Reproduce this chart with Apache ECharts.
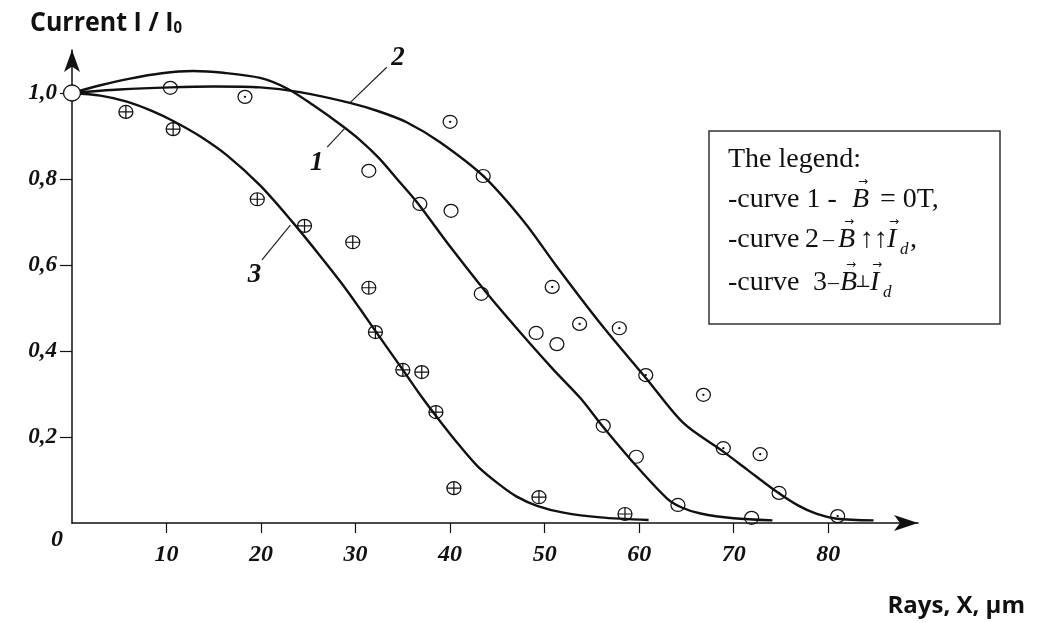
<!DOCTYPE html>
<html>
<head>
<meta charset="utf-8">
<title>Current vs rays</title>
<script src="https://cdn.jsdelivr.net/npm/echarts@6.0.0/dist/echarts.min.js"></script>
<style>
  html, body { margin: 0; padding: 0; background: #fff; }
  #chart { width: 1042px; height: 623px; }
</style>
</head>
<body>
<div id="chart"></div>
<script>
  // tick labels
  var xTicks = [10, 20, 30, 40, 50, 60, 70, 80];
  var yTicks = [0.2, 0.4, 0.6, 0.8, 1.0];

  // fitted curves [x, I/I0]
  var curve1 = [[0, 1.0], [3, 1.018], [6, 1.033], [9.5, 1.046], [12.8, 1.051], [16, 1.047], [19.9, 1.035],
    [22.8, 1.01], [25.5, 0.972], [28.5, 0.925], [30.5, 0.89], [32.5, 0.848], [34.5, 0.797], [36.6, 0.743],
    [40, 0.643], [44.2, 0.526], [48.1, 0.426], [51, 0.355], [53.8, 0.29], [56.2, 0.223], [59.4, 0.14],
    [62.9, 0.058], [64.5, 0.036], [66.5, 0.022], [70, 0.011], [74.1, 0.006]];
  var curve2 = [[0, 1.0], [5, 1.008], [10.4, 1.013], [15, 1.015], [19.9, 1.013], [24.1, 1.002], [29.4, 0.977],
    [32.5, 0.957], [35.4, 0.932], [38.9, 0.886], [43.5, 0.807], [47.8, 0.701], [51.3, 0.596], [55.9, 0.464],
    [60.8, 0.335], [64.7, 0.232], [68.9, 0.166], [71.5, 0.123], [74.6, 0.072], [76.8, 0.041], [78.8, 0.021],
    [80.9, 0.01], [84.8, 0.006]];
  var curve3 = [[0, 1.0], [3, 0.994], [5.8, 0.98], [8.5, 0.958], [10.7, 0.935], [13.5, 0.9], [16.4, 0.855],
    [19.9, 0.785], [23.4, 0.698], [26, 0.628], [28.5, 0.558], [30.5, 0.497], [32.5, 0.434], [35, 0.356],
    [37.1, 0.29], [39, 0.235], [41, 0.18], [43, 0.13], [45.3, 0.088], [47, 0.062], [49.2, 0.04], [52, 0.024],
    [55.9, 0.013], [61, 0.007]];

  // measured points
  var origin = [[0, 1.0]];
  var pts1 = [[10.4, 1.012], [31.4, 0.819], [36.8, 0.742], [40.1, 0.726], [43.3, 0.533], [49.1, 0.442],
    [51.3, 0.416], [56.2, 0.226], [59.7, 0.154], [64.1, 0.042], [71.9, 0.012]];
  var pts2 = [[18.3, 0.991], [40.0, 0.933], [43.5, 0.807], [50.8, 0.549], [53.7, 0.463], [57.9, 0.453],
    [60.7, 0.344], [66.8, 0.298], [68.9, 0.174], [72.8, 0.160], [74.8, 0.070], [81.0, 0.016]];
  var pts3 = [[5.7, 0.956], [10.7, 0.916], [19.6, 0.753], [24.6, 0.691], [29.7, 0.653], [31.4, 0.547],
    [32.1, 0.444], [35.0, 0.356], [37.0, 0.351], [38.5, 0.258], [40.4, 0.081], [49.4, 0.060], [58.5, 0.021]];

  var serif = '"Liberation Serif", "Times New Roman", serif';
  var sans = '"Open Sans", sans-serif';
  var ink = '#111';

  var circlePath = 'path://M0,7A7,7 0 1,1 14,7A7,7 0 1,1 0,7Z';
  var dotPath = 'path://M0,7A7,7 0 1,1 14,7A7,7 0 1,1 0,7Z M6.4,7A0.6,0.6 0 1,1 7.6,7A0.6,0.6 0 1,1 6.4,7Z';
  var plusPath = 'path://M0,7A7,7 0 1,1 14,7A7,7 0 1,1 0,7Z M7,0L7,14 M0,7L14,7';

  function curveSeries(name, data, leader, labelAt, txt) {
    return {
      name: name,
      type: 'line',
      data: data,
      smooth: 0.3,
      showSymbol: false,
      lineStyle: { color: ink, width: 2.4 },
      z: 3,
      markLine: {
        silent: true,
        symbol: ['none', 'none'],
        label: { show: false },
        lineStyle: { color: '#222', width: 1.2, type: 'solid' },
        data: [[{ coord: leader[0] }, { coord: leader[1] }]]
      },
      markPoint: {
        silent: true,
        symbol: 'circle',
        symbolSize: 0,
        label: {
          show: true, position: 'inside', formatter: txt,
          fontFamily: serif, fontStyle: 'italic', fontWeight: 'bold', fontSize: 27, color: ink
        },
        data: [{ coord: labelAt }]
      }
    };
  }

  function pointSeries(name, data, sym) {
    return {
      name: name,
      type: 'scatter',
      data: data,
      symbol: sym,
      symbolSize: [14, 13],
      itemStyle: { color: 'rgba(0,0,0,0)', borderColor: ink, borderWidth: 1.2, opacity: 1 },
      z: 4
    };
  }

  function piece(text, x, y, opt) {
    opt = opt || {};
    return {
      type: 'text',
      x: x, y: y,
      z: 20,
      style: {
        text: text,
        fill: ink,
        font: (opt.italic ? 'italic ' : '') + (opt.size || 28) + 'px ' + (opt.family || serif),
        verticalAlign: 'middle',
        align: 'left'
      }
    };
  }

  var arrowFont = { size: 12, family: '"DejaVu Sans"' };
  var dashFont = { size: 22 };
  var legendBits = [
    { type: 'rect', z: 19, shape: { x: 709, y: 131, width: 291, height: 193 },
      style: { fill: '#fff', stroke: '#333', lineWidth: 1.5 } },
    piece('The legend:', 728, 160),
    piece('-curve 1 -', 728, 200),
    piece('B', 852, 200, { italic: true }),
    piece('\u2192', 858, 182, arrowFont),
    piece('= 0T,', 880, 200),
    piece('-curve', 728, 240),
    piece('2', 805, 240),
    piece('\u2013', 823, 240, dashFont),
    piece('B', 838, 240, { italic: true }),
    piece('\u2192', 844, 222, arrowFont),
    piece('\u2191\u2191', 860, 240),
    piece('I', 887, 240, { italic: true }),
    piece('\u2192', 889, 222, arrowFont),
    piece('d', 900, 250, { italic: true, size: 17 }),
    piece(',', 910, 240),
    piece('-curve', 728, 283),
    piece('3', 813, 283),
    piece('\u2013', 828, 283, dashFont),
    piece('B', 840, 283, { italic: true }),
    piece('\u2192', 846, 265, arrowFont),
    piece('\u22A5', 855, 283, { size: 17, family: '"DejaVu Serif"' }),
    piece('I', 870, 283, { italic: true }),
    piece('\u2192', 872, 265, arrowFont),
    piece('d', 883, 293, { italic: true, size: 17 })
  ];

  var chart = echarts.init(document.getElementById('chart'));
  chart.setOption({
    animation: false,
    backgroundColor: '#fff',
    grid: { left: 72, top: 50, width: 846, height: 473, outerBoundsMode: 'none' },
    xAxis: {
      type: 'value', min: 0, max: 89.5,
      splitLine: { show: false },
      axisLine: { show: true, symbol: ['none', 'arrow'], symbolSize: [12, 24],
        lineStyle: { color: ink, width: 1.5 } },
      axisTick: { show: true, customValues: xTicks, length: 10, lineStyle: { color: ink, width: 1.2 } },
      axisLabel: {
        customValues: xTicks, margin: 20, color: ink,
        fontFamily: serif, fontStyle: 'italic', fontWeight: 'bold', fontSize: 24
      }
    },
    yAxis: {
      type: 'value', min: 0, max: 1.1,
      splitLine: { show: false },
      axisLine: { show: true, symbol: ['none', 'arrow'], symbolSize: [12, 22],
        lineStyle: { color: ink, width: 1.5 } },
      axisTick: { show: true, customValues: yTicks, length: 12, lineStyle: { color: ink, width: 1.2 } },
      axisLabel: {
        customValues: yTicks, margin: 15, color: ink,
        fontFamily: serif, fontStyle: 'italic', fontWeight: 'bold', fontSize: 23,
        formatter: function (v) { return v.toFixed(1).replace('.', ','); }
      }
    },
    graphic: [
      {
        type: 'text', x: 30, y: 23, scaleY: 1.1,
        style: {
          text: 'Current I / I{s|0}', fill: ink, verticalAlign: 'middle',
          font: 'bold 25px ' + sans,
          rich: { s: { fontSize: 15, fontWeight: 'bold', fontFamily: sans, verticalAlign: 'bottom', padding: [9, 0, 0, 0] } }
        }
      },
      {
        type: 'text', x: 1025, y: 606,
        style: { text: 'Rays, X, \u00B5m', fill: ink, font: 'bold 24px ' + sans, align: 'right', verticalAlign: 'middle' }
      },
      {
        type: 'text', x: 57, y: 540,
        style: { text: '0', fill: ink, font: 'italic bold 24px ' + serif, align: 'center', verticalAlign: 'middle' }
      }
    ].concat(legendBits),
    series: [
      curveSeries('curve 1', curve1, [[27.0, 0.874], [28.9, 0.919]], [25.9, 0.837], '1'),
      curveSeries('curve 2', curve2, [[29.4, 0.977], [33.3, 1.060]], [34.5, 1.081], '2'),
      curveSeries('curve 3', curve3, [[20.1, 0.612], [23.1, 0.693]], [19.3, 0.577], '3'),
      pointSeries('B = 0T', pts1, circlePath),
      pointSeries('B parallel Id', pts2, dotPath),
      pointSeries('B perpendicular Id', pts3, plusPath),
      {
        name: 'start', type: 'scatter', data: origin, symbol: 'circle', symbolSize: [17, 16], z: 6,
        itemStyle: { color: '#fff', borderColor: ink, borderWidth: 1.3, opacity: 1 }
      }
    ]
  });
</script>
</body>
</html>
